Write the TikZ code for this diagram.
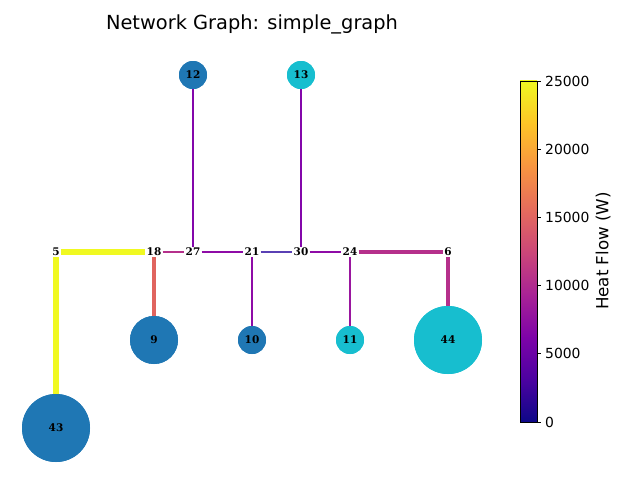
\documentclass[tikz,border=0pt]{standalone}
\usepackage{fontspec}
\setmainfont{DejaVu Sans}
\newfontfamily\lblfont{DejaVu Serif}
\definecolor{nblue}{HTML}{1F77B4}
\definecolor{ncyan}{HTML}{17BECF}
\definecolor{p0}{HTML}{0D0887}
\definecolor{p1}{HTML}{4C02A1}
\definecolor{p2}{HTML}{7E03A8}
\definecolor{p3}{HTML}{A92395}
\definecolor{p4}{HTML}{CC4778}
\definecolor{p5}{HTML}{E66C5C}
\definecolor{p6}{HTML}{F89540}
\definecolor{p7}{HTML}{FDC527}
\definecolor{p8}{HTML}{F0F921}
\definecolor{eyel}{HTML}{F0F921}
\definecolor{esal}{HTML}{E0645F}
\definecolor{emag}{HTML}{B5308B}
\definecolor{epur}{HTML}{8306AA}
\definecolor{epur2}{HTML}{8E0CA6}
\definecolor{eblu}{HTML}{5A40B4}
\definecolor{epur3}{HTML}{9A169F}
\tikzset{
  lbl/.style={font=\lblfont\bfseries\fontsize{10.5}{10.5}\selectfont, text=black, inner sep=1pt},
  hub/.style={lbl, fill=white},
  bub/.style={circle, draw=none, inner sep=0pt, minimum size=#1},
  tickl/.style={font=\fontsize{13.9}{16}\selectfont, anchor=west, inner sep=0pt},
}
\begin{document}
\begin{tikzpicture}[x=1pt,y=-1pt]
\useasboundingbox (0,0) rectangle (640,480);
% hub labels (named)
\node[hub] (n5) at (56,252) {5};
\node[hub] (n18) at (154,252) {18};
\node[hub] (n27) at (193,252) {27};
\node[hub] (n21) at (252,252) {21};
\node[hub] (n30) at (301,252) {30};
\node[hub] (n24) at (350,252) {24};
\node[hub] (n6) at (448,252) {6};
% circles (named)
\node[bub=28pt, fill=nblue] (n12) at (193,75) {};
\node[bub=28pt, fill=ncyan] (n13) at (301,75) {};
\node[bub=48pt, fill=nblue] (n9) at (154,340) {};
\node[bub=28pt, fill=nblue] (n10) at (252,340) {};
\node[bub=28pt, fill=ncyan] (n11) at (350,340) {};
\node[bub=68pt, fill=ncyan] (n44) at (448,340) {};
\node[bub=68pt, fill=nblue] (n43) at (56,428) {};
% edges
\draw[eyel, line width=6pt] (n5) -- (n18);
\draw[eyel, line width=6pt] (n5) -- (n43);
\draw[esal, line width=3.8pt] (n18) -- (n9);
\draw[emag, line width=2.8pt] (n18) -- (n27);
\draw[epur, line width=1.2pt] (n27) -- (n12);
\draw[epur2, line width=1.2pt] (n27) -- (n21);
\draw[eblu, line width=1.2pt] (n21) -- (n30);
\draw[epur2, line width=1.3pt] (n21) -- (n10);
\draw[epur, line width=1.2pt] (n30) -- (n13);
\draw[epur2, line width=1.3pt] (n30) -- (n24);
\draw[epur3, line width=1.2pt] (n24) -- (n11);
\draw[emag, line width=3.2pt] (n24) -- (n6);
\draw[emag, line width=3.2pt] (n6) -- (n44);
% circles and labels on top
\node[bub=28pt, fill=nblue, lbl] at (n12) {12};
\node[bub=28pt, fill=ncyan, lbl] at (n13) {13};
\node[bub=48pt, fill=nblue, lbl] at (n9) {9};
\node[bub=28pt, fill=nblue, lbl] at (n10) {10};
\node[bub=28pt, fill=ncyan, lbl] at (n11) {11};
\node[bub=68pt, fill=ncyan, lbl] at (n44) {44};
\node[bub=68pt, fill=nblue, lbl] at (n43) {43};
% title
\node[font=\fontsize{19.4}{22}\selectfont] (title) at (252,24) {Network Graph: simple\_graph};
% colorbar
\foreach \i/\ca/\cb in {0/p0/p1,1/p1/p2,2/p2/p3,3/p3/p4,4/p4/p5,5/p5/p6,6/p6/p7,7/p7/p8}{
  \pgfmathsetmacro{\ylo}{422-\i*42.625}
  \pgfmathsetmacro{\yhi}{422-(\i+1)*42.625-0.3}
  \shade[bottom color=\ca, top color=\cb, shading angle=0] (520,\ylo) rectangle (537,\yhi);
}
\draw[black, line width=0.8pt] (520,81) rectangle (537,422);
\foreach \v/\yy in {0/422,5000/353.8,10000/285.6,15000/217.4,20000/149.2,25000/81}{
  \draw[black, line width=0.8pt] (537,\yy) -- (541,\yy);
  \node[tickl] at (545,\yy) {\v};
}
\node[font=\fontsize{16.7}{19}\selectfont, rotate=90] (cblabel) at (603,251) {Heat Flow (W)};
\end{tikzpicture}
\end{document}
